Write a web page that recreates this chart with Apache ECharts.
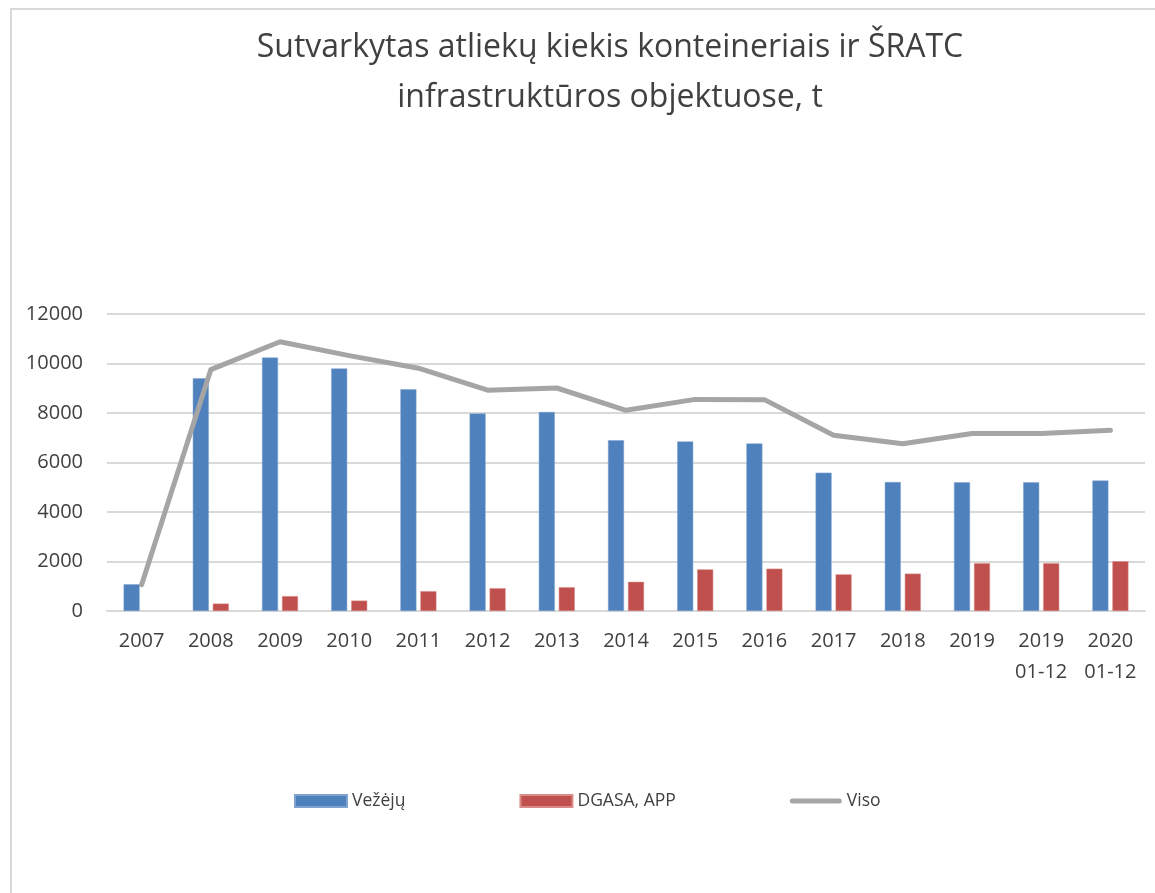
<!DOCTYPE html>
<html>
<head>
<meta charset="utf-8">
<script src="https://cdn.jsdelivr.net/npm/echarts@6/dist/echarts.min.js"></script>
<style>
html,body{margin:0;padding:0;background:#fff;}
#chart{width:1155px;height:893px;}
</style>
</head>
<body>
<div id="chart"></div>
<script>
var categories = ['2007','2008','2009','2010','2011','2012','2013','2014','2015','2016','2017','2018','2019','2019\n01-12','2020\n01-12'];
var vezeju = [1080, 9400, 10240, 9800, 8960, 7980, 8040, 6900, 6850, 6770, 5590, 5210, 5200, 5200, 5270];
var dgasa = [null, 300, 600, 420, 800, 920, 960, 1180, 1680, 1710, 1480, 1510, 1930, 1930, 2010];
var viso = [1060, 9750, 10880, 10320, 9810, 8920, 9010, 8110, 8550, 8540, 7100, 6760, 7170, 7170, 7300];
var seriesNames = ['Vežėjų', 'DGASA, APP', 'Viso'];
var titleText = 'Sutvarkytas atliekų kiekis konteineriais ir ŠRATC\ninfrastruktūros objektuose, t';

var FONT = 'Open Sans';
var chart = echarts.init(document.getElementById('chart'), null, {renderer:'canvas'});
chart.setOption({
  backgroundColor: '#ffffff',
  animation: false,
  graphic: [{
    type: 'rect',
    shape: {x: 11, y: 9, width: 1400, height: 1100},
    style: {fill: 'none', stroke: '#D9D9D9', lineWidth: 2},
    silent: true, z: -1
  }],
  title: {
    text: titleText,
    left: 605,
    top: 18,
    textAlign: 'center',
    textStyle: {fontFamily: FONT, fontSize: 32, fontWeight: 'normal', color: '#404040', lineHeight: 50}
  },
  legend: {
    left: 289,
    top: 787,
    itemWidth: 52,
    itemHeight: 12,
    itemGap: 114,
    textStyle: {fontFamily: FONT, fontSize: 17.5, color: '#404040'},
    data: [
      {name: seriesNames[0], icon: 'rect'},
      {name: seriesNames[1], icon: 'rect'},
      {name: seriesNames[2], icon: 'path://M2.5,0 L49.5,0 A2.5,2.5 0 0 1 49.5,5 L2.5,5 A2.5,2.5 0 0 1 2.5,0 Z'}
    ]
  },
  grid: {left: 107, right: 10, top: 314, bottom: 282, containLabel: false},
  xAxis: {
    type: 'category',
    data: categories,
    axisLine: {show: true, lineStyle: {color: '#D9D9D9', width: 2}},
    axisTick: {show: false},
    axisLabel: {fontFamily: FONT, fontSize: 20, color: '#404040', margin: 15, lineHeight: 31, interval: 0}
  },
  yAxis: {
    type: 'value',
    min: 0, max: 12000, interval: 2000,
    axisLine: {show: false},
    axisTick: {show: false},
    splitLine: {lineStyle: {color: '#D9D9D9', width: 2}},
    axisLabel: {fontFamily: FONT, fontSize: 20, color: '#404040', margin: 24,
      formatter: function (v) { return String(v); }}
  },
  series: [
    {name: seriesNames[0], type: 'bar', data: vezeju, barWidth: 16, barGap: '25%',
     itemStyle: {color: '#4F81BD', borderColor: '#7FA3D1', borderWidth: 0.5}},
    {name: seriesNames[1], type: 'bar', data: dgasa, barWidth: 16, barGap: '25%',
     itemStyle: {color: '#C0504D', borderColor: '#D98A88', borderWidth: 0.5}},
    {name: seriesNames[2], type: 'line', data: viso, symbol: 'none', z: 5,
     lineStyle: {color: '#A5A5A5', width: 5, cap: 'round', join: 'round'},
     itemStyle: {color: '#A5A5A5'}}
  ]
});
</script>
</body>
</html>
